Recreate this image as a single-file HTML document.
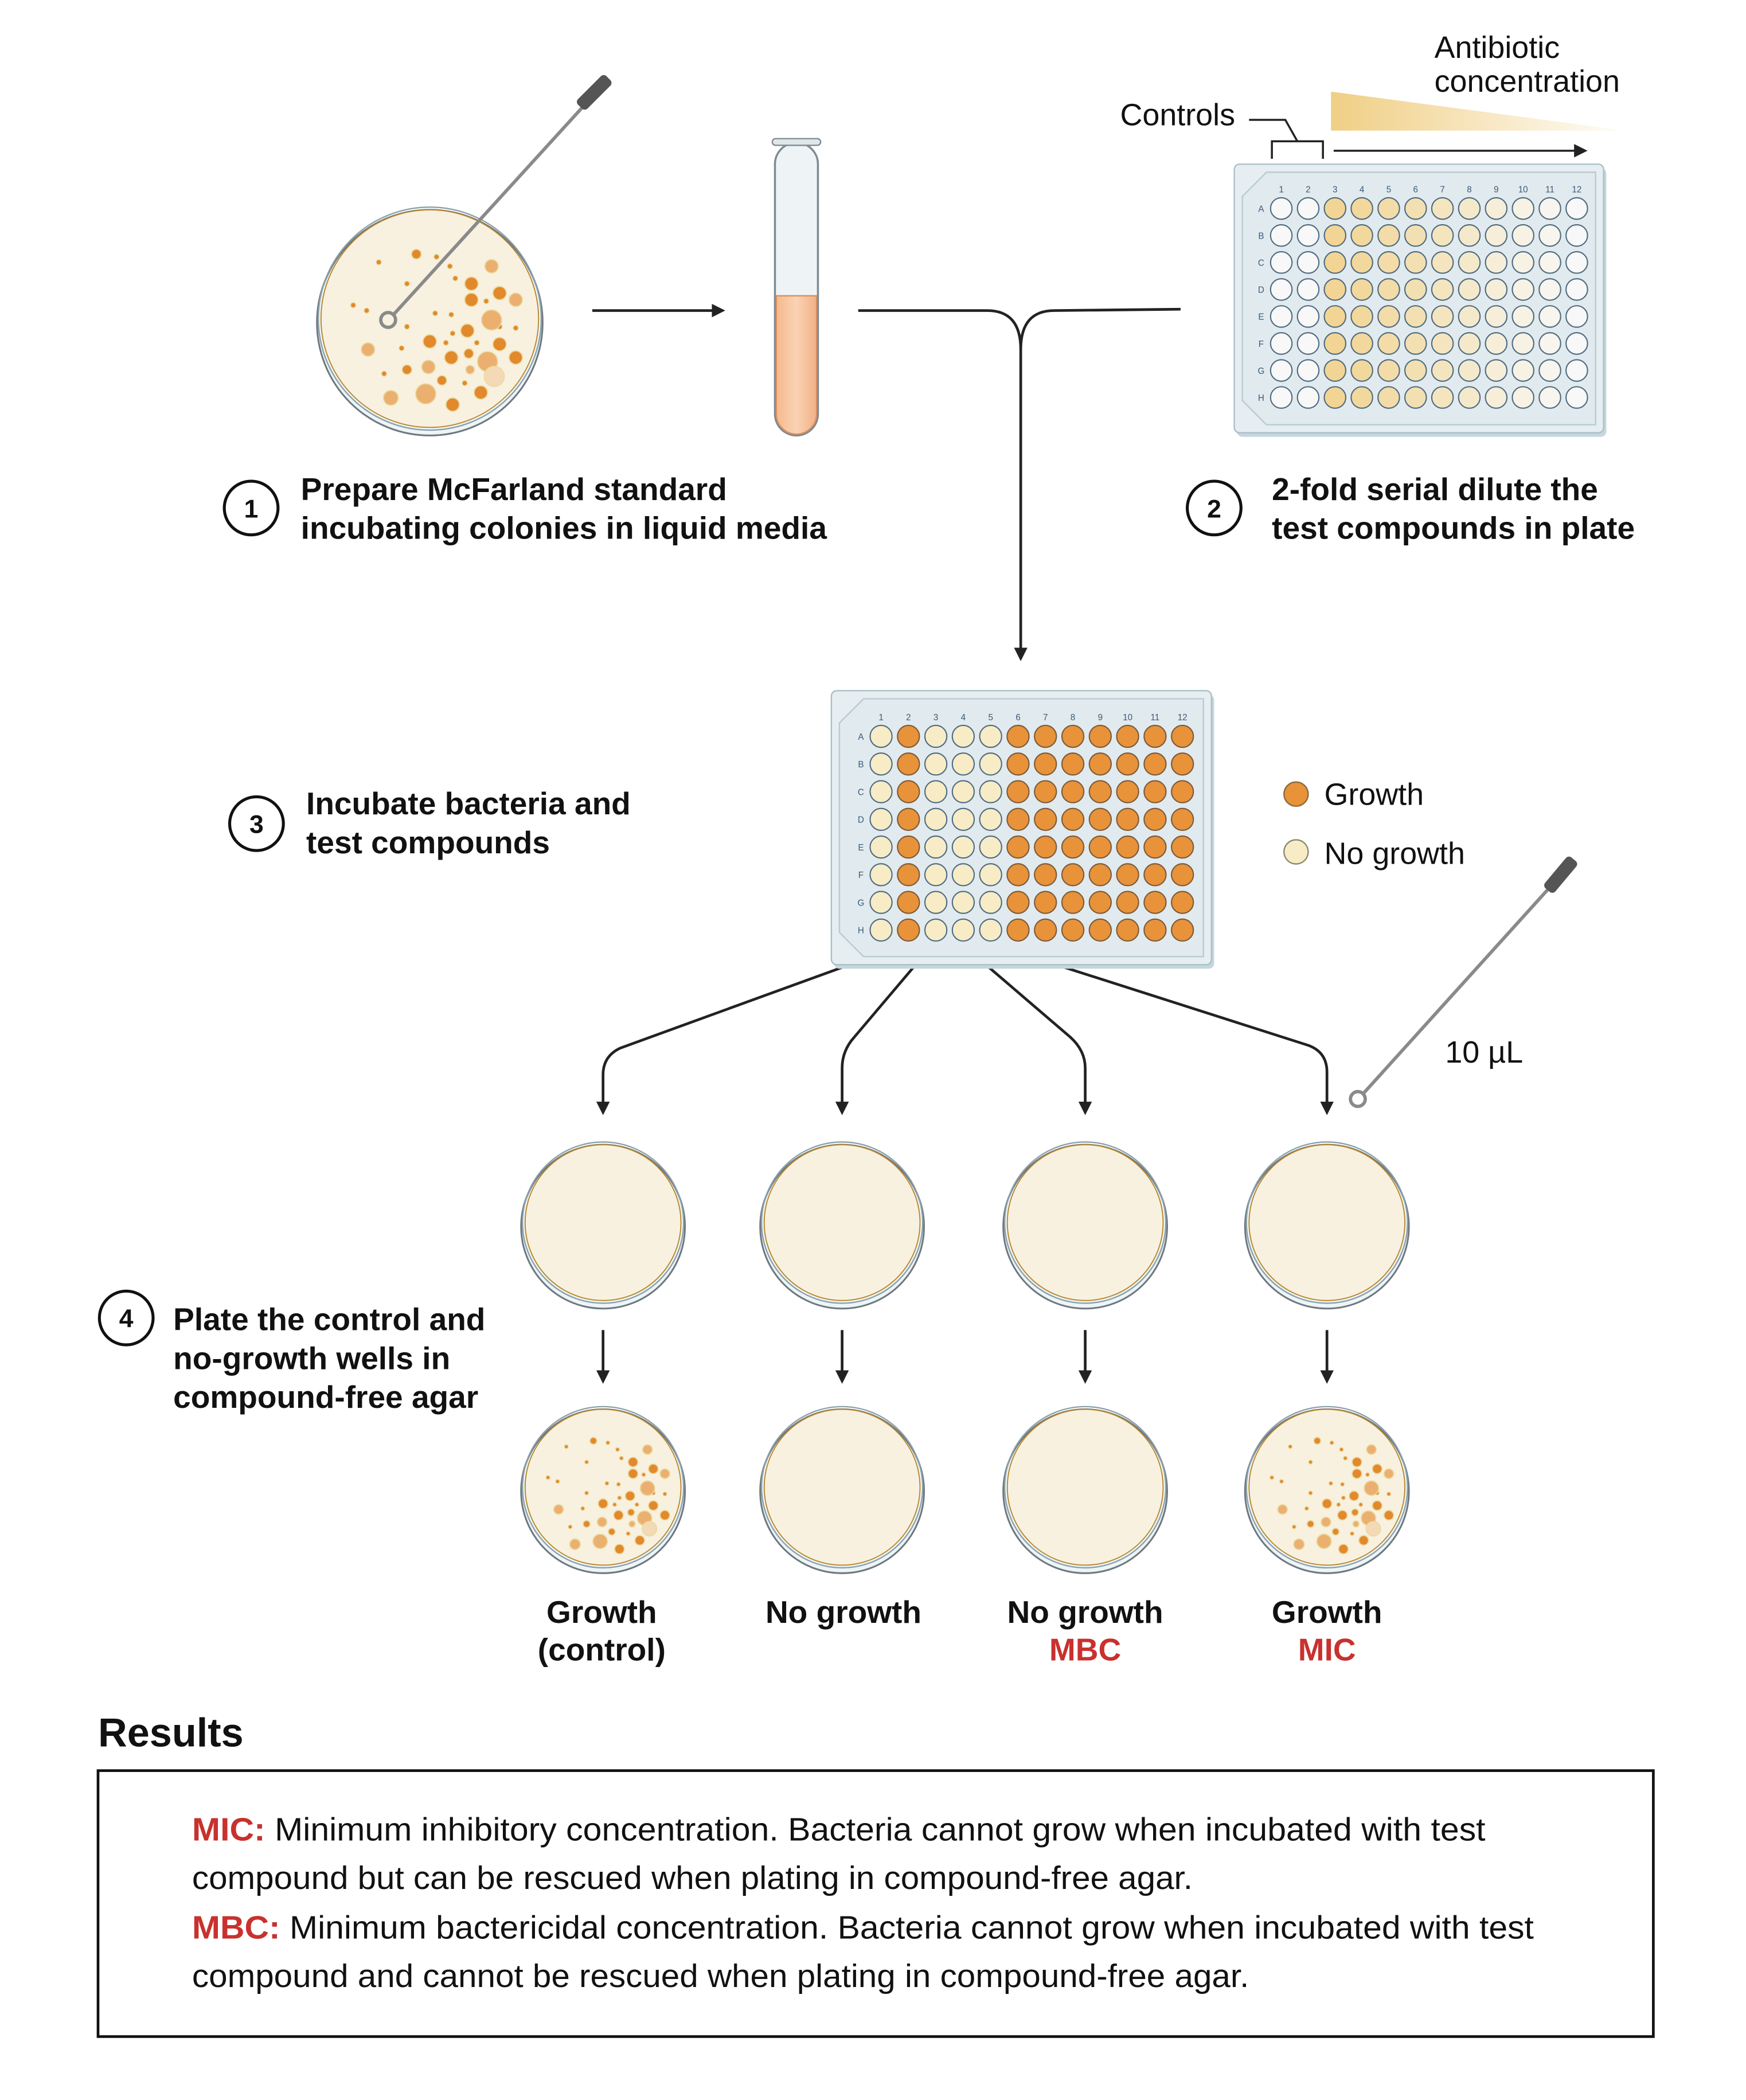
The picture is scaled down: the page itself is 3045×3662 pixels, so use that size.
<!DOCTYPE html>
<html><head><meta charset="utf-8"><style>
html,body{margin:0;padding:0;background:#fff}
svg{display:block}
text{font-family:"Liberation Sans",sans-serif}
</style></head><body>
<svg id="s" xmlns="http://www.w3.org/2000/svg" width="3045" height="3662" viewBox="0 0 1300 1563">
<defs>
<linearGradient id="grad" x1="0" x2="1" y1="0" y2="0"><stop offset="0" stop-color="#f0cf85"/><stop offset="1" stop-color="#f0cf85" stop-opacity="0.05"/></linearGradient>
<linearGradient id="liq" x1="0" x2="1"><stop offset="0" stop-color="#f5b98d"/><stop offset="0.5" stop-color="#fad3b5"/><stop offset="1" stop-color="#f2b085"/></linearGradient>
<marker id="ah" markerWidth="10" markerHeight="10" refX="8" refY="5" orient="auto" markerUnits="userSpaceOnUse"><path d="M0,0 L10,5 L0,10 z" fill="#222"/></marker>
</defs>
<g id="dishes"></g>
<g>
<rect x="577" y="106" width="32" height="218" rx="16" fill="#eef4f6" stroke="#7f8a92" stroke-width="1.5"/>
<path d="M578,220 L608,220 L608,308 A15,15 0 0 1 578,308 Z" fill="url(#liq)" stroke="#d98f5e" stroke-width="1"/>
<rect x="575" y="103" width="36" height="5" rx="2.5" fill="#dfe7ea" stroke="#7f8a92"/>
</g>
<g stroke="#222" stroke-width="2" fill="none">
<line x1="441" y1="231" x2="538" y2="231" marker-end="url(#ah)"/>
<path d="M639,231 L735,231 Q760,231 760,260 L760,490" marker-end="url(#ah)"/>
<path d="M879,230 L785,231 Q760,231 760,260"/>
<path d="M682,700 L462,780 Q449,786 449,800 L449,828" marker-end="url(#ah)"/>
<path d="M697,700 L636,772 Q627,782 627,795 L627,828" marker-end="url(#ah)"/>
<path d="M713,700 L797,772 Q808,782 808,795 L808,828" marker-end="url(#ah)"/>
<path d="M730,700 L974,778 Q988,783 988,798 L988,828" marker-end="url(#ah)"/>
<line x1="449" y1="990" x2="449" y2="1028" marker-end="url(#ah)"/>
<line x1="627" y1="990" x2="627" y2="1028" marker-end="url(#ah)"/>
<line x1="808" y1="990" x2="808" y2="1028" marker-end="url(#ah)"/>
<line x1="988" y1="990" x2="988" y2="1028" marker-end="url(#ah)"/>
<line x1="993" y1="112" x2="1180" y2="112" stroke-width="1.5" marker-end="url(#ah)"/>
<path d="M947,118 L947,105 L985,105 L985,118 M966,105 L957,89 L930,89" stroke-width="1.5"/>
</g>
<polygon points="991,68 1210,97 991,97" fill="url(#grad)"/>
<g id="plates"></g>
<g>
<line x1="293" y1="234" x2="437" y2="76" stroke="#8a8a8a" stroke-width="2.5"/>
<circle cx="289" cy="238" r="5.5" fill="none" stroke="#8a8a8a" stroke-width="2.5"/>
<rect x="428" y="65" width="30" height="10" rx="3" fill="#555" transform="rotate(-45 441 70)"/>
</g>
<g>
<line x1="1015" y1="814" x2="1157" y2="657" stroke="#8a8a8a" stroke-width="2.5"/>
<circle cx="1011" cy="818" r="5.5" fill="none" stroke="#8a8a8a" stroke-width="2.5"/>
<rect x="1147" y="646" width="30" height="10" rx="3" fill="#555" transform="rotate(-50 1162 651)"/>
</g>
<g font-size="23" fill="#111">
<text x="834" y="93">Controls</text>
<text x="1068" y="43">Antibiotic</text>
<text x="1068" y="68">concentration</text>
<text x="1076" y="791">10 µL</text>
<text x="986" y="599">Growth</text>
<text x="986" y="643">No growth</text>
</g>
<circle cx="965" cy="591" r="9" fill="#e8923a" stroke="#8a6a3a" stroke-width="1"/>
<circle cx="965" cy="634" r="9" fill="#f7ecc6" stroke="#8a8a6a" stroke-width="1"/>
<g fill="none" stroke="#111" stroke-width="2.2">
<circle cx="187" cy="378" r="20"/><circle cx="904" cy="378" r="20"/><circle cx="191" cy="613" r="20"/><circle cx="94" cy="981" r="20"/>
</g>
<g font-size="19" font-weight="bold" fill="#111" text-anchor="middle">
<text x="187" y="385">1</text><text x="904" y="385">2</text><text x="191" y="620">3</text><text x="94" y="988">4</text>
</g>
<g font-size="23.5" font-weight="bold" fill="#111">
<text x="224" y="372">Prepare McFarland standard</text>
<text x="224" y="401">incubating colonies in liquid media</text>
<text x="947" y="372">2-fold serial dilute the</text>
<text x="947" y="401">test compounds in plate</text>
<text x="228" y="606">Incubate bacteria and</text>
<text x="228" y="635">test compounds</text>
<text x="129" y="990">Plate the control and</text>
<text x="129" y="1019">no-growth wells in</text>
<text x="129" y="1048">compound-free agar</text>
</g>
<g font-size="23.5" font-weight="bold" fill="#111" text-anchor="middle">
<text x="448" y="1208">Growth</text><text x="448" y="1236">(control)</text>
<text x="628" y="1208">No growth</text>
<text x="808" y="1208">No growth</text><text x="808" y="1236" fill="#c8312e">MBC</text>
<text x="988" y="1208">Growth</text><text x="988" y="1236" fill="#c8312e">MIC</text>
</g>
<text x="73" y="1300" font-size="30" font-weight="bold" fill="#111">Results</text>
<rect x="73" y="1318" width="1158" height="198" fill="none" stroke="#111" stroke-width="2"/>
<g font-size="24" fill="#111">
<text x="143" y="1370" textLength="963" lengthAdjust="spacingAndGlyphs"><tspan fill="#c8312e" font-weight="bold">MIC:</tspan> Minimum inhibitory concentration. Bacteria cannot grow when incubated with test</text>
<text x="143" y="1406" textLength="745" lengthAdjust="spacingAndGlyphs">compound but can be rescued when plating in compound-free agar.</text>
<text x="143" y="1443" textLength="999" lengthAdjust="spacingAndGlyphs"><tspan fill="#c8312e" font-weight="bold">MBC:</tspan> Minimum bactericidal concentration. Bacteria cannot grow when incubated with test</text>
<text x="143" y="1479" textLength="787" lengthAdjust="spacingAndGlyphs">compound and cannot be rescued when plating in compound-free agar.</text>
</g>
</svg>
<script>
const NS='http://www.w3.org/2000/svg';
const colonies=[[-10,-48,3.6,0],[31,-26,5,0],[52,-19,5,0],[31,-14,5,0],[64,-14,5,1],[46,-39,5,1],[46,1,7.5,1],[28,9,5,0],[0,17,5,0],[52,19,5,0],[29,26,3.6,0],[16,29,5,0],[43,32,7.5,1],[48,43,7.5,2],[64,29,5,0],[-1,36,5,1],[30,38,3.2,1],[-17,38,3.6,0],[-46,23,5,1],[9,46,3.6,0],[38,55,5,0],[-3,56,7.5,1],[-29,59,5.5,1],[17,64,5,0]];
const dots=[[-38,-42],[5,-46],[15,-39],[-17,-26],[19,-30],[-57,-10],[-47,-6],[42,-13],[4,-4],[16,-3],[-17,6],[52,6],[64,7],[17,11],[12,18],[35,18],[-21,22],[-34,41],[26,48]];
const topRowLabels=['1','2','3','4','5','6','7','8','9','10','11','12'];
const rowLabels=['A','B','C','D','E','F','G','H'];
const dilutionColors=['#f8f8f8','#f8f8f8','#f2d594','#f2d89c','#f3dca8','#f3e0b2','#f4e5bf','#f5e9cb','#f6eed9','#f7f2e4','#f7f5ee','#f8f8f8'];
const resultGrowth=[0,1,0,0,0,1,1,1,1,1,1,1];
function el(t,a,p){const e=document.createElementNS(NS,t);for(const k in a)e.setAttribute(k,a[k]);p.appendChild(e);return e;}
const D=document.getElementById('dishes');
function dish(cx,cy,r,withCol,name){
 const g=el('g',{},D);
 
 
 el('circle',{cx:cx,cy:cy+3,r:r+2,fill:'#eef5f7',stroke:'#6f7880','stroke-width':1.3},g);
 el('circle',{cx:cx,cy:cy,r:r+1,fill:'none',stroke:'#8aa0aa','stroke-width':1},g);
 el('circle',{cx:cx,cy:cy,r:r-1,fill:'#f8f1e0',stroke:'#b8862a','stroke-width':0.8},g);
 if(!withCol)return;
 const s=r/82;
 dots.forEach(d=>{const c=el('circle',{cx:cx+d[0]*s,cy:cy+d[1]*s,r:1.6*s+0.3,fill:'#e2892c',stroke:'#ead79a','stroke-width':0.6},g);
  });
 colonies.forEach(d=>{const f=['#e2892c','#ebb070','#f3d9b5'][d[3]];
  const c=el('circle',{cx:cx+d[0]*s,cy:cy+d[1]*s,r:d[2]*s,fill:f,stroke:'#eadba0','stroke-width':0.8},g);
  });
}
dish(320,237,82,true,'source-petri-dish');
[449,627,808,988].forEach((x,i)=>dish(x,910,59,false,'agar-plate-'+(i+1)));
[449,627,808,988].forEach((x,i)=>dish(x,1107,59,i==0||i==3,'result-plate-'+(i+1)));
const P=document.getElementById('plates');
function plate(x,y,w,h,x0,dx,y0,dy,colorFn,name){
 const g=el('g',{},P);
 
 
 el('rect',{x:x+2,y:y+3,width:w,height:h,rx:4,fill:'#c5d6dc'},g);
 el('rect',{x:x,y:y,width:w,height:h,rx:4,fill:'#e6eef1',stroke:'#a9bfc7','stroke-width':1},g);
 el('path',{d:`M${x+24},${y+6} L${x+w-6},${y+6} L${x+w-6},${y+h-6} L${x+24},${y+h-6} L${x+6},${y+h-24} L${x+6},${y+24} Z`,fill:'#e1eaee',stroke:'#b7cbd2','stroke-width':1},g);
 topRowLabels.forEach((t,i)=>{const e=el('text',{x:x0+i*dx,y:y0-12,'font-size':6.5,fill:'#3a5a78','text-anchor':'middle'},g);e.textContent=t;});
 rowLabels.forEach((t,j)=>{const e=el('text',{x:x0-15,y:y0+j*dy+2.5,'font-size':6.5,fill:'#3a5a78','text-anchor':'middle'},g);e.textContent=t;
  topRowLabels.forEach((c,i)=>{const f=colorFn(i);
   const w2=el('circle',{cx:x0+i*dx,cy:y0+j*dy,r:dx*0.4,fill:f,stroke:f=='#e8923a'?'#7a5a3a':'#4e6b80','stroke-width':0.9},g);
   
   });});
}
plate(919,122,275,200,954,20,155,20.1,i=>dilutionColors[i],'dilution-plate');
plate(619,514,283,204,656,20.4,548,20.6,i=>resultGrowth[i]?'#e8923a':'#f7ecc6','incubation-plate');
</script>
</body></html>
